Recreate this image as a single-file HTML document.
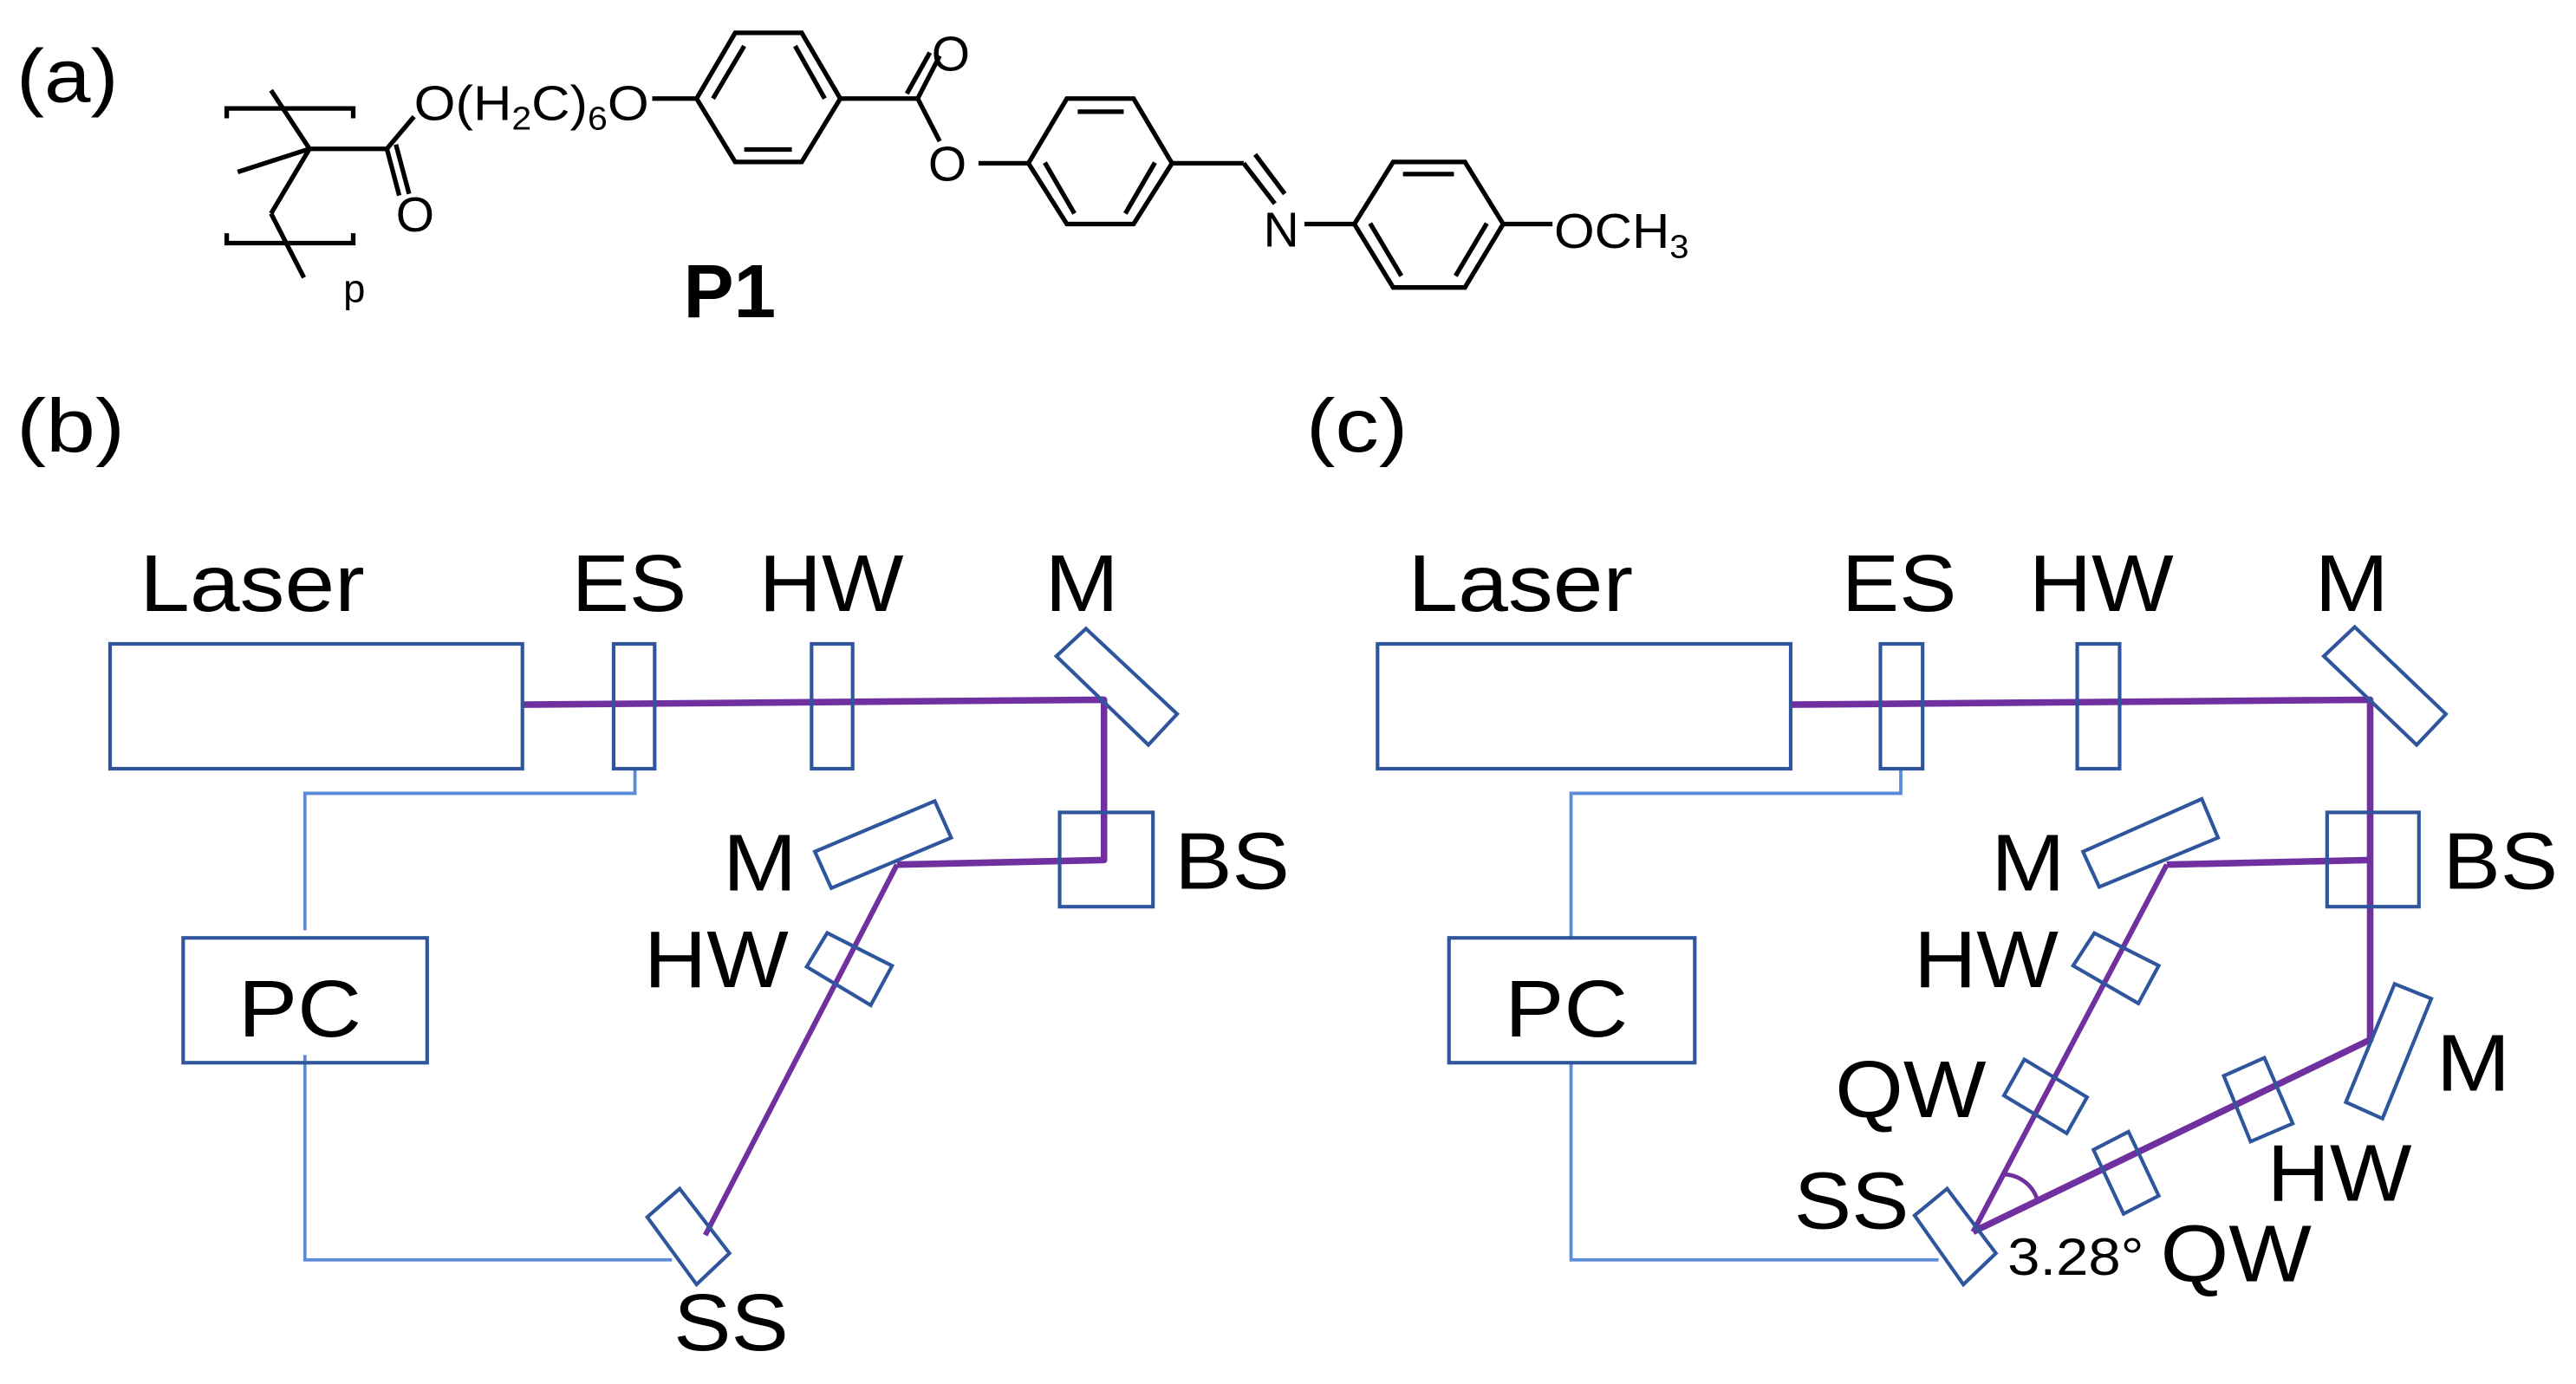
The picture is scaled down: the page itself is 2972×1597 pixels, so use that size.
<!DOCTYPE html>
<html><head><meta charset="utf-8"><style>
html,body{margin:0;padding:0;background:#fff;}
svg{display:block;}
text{font-family:"Liberation Sans",Arial,sans-serif;fill:#000;}
</style></head><body>
<svg width="2972" height="1597" viewBox="0 0 1568 842.6" preserveAspectRatio="none" xmlns="http://www.w3.org/2000/svg">
<!-- (a) chemistry -->
<text x="10" y="62" font-size="46" textLength="62" lengthAdjust="spacingAndGlyphs">(a)</text>
<g stroke="#000" stroke-width="2.8" fill="none">
<polyline points="138,72 138,66 215,66 215,72"/>
<polyline points="138,142 138,148 215,148 215,142"/>
<line x1="165" y1="55" x2="188.4" y2="90.6"/>
<line x1="188.4" y1="90.6" x2="144.7" y2="104.7"/>
<line x1="188.4" y1="90.6" x2="235.5" y2="90.6"/>
<line x1="235.5" y1="90.6" x2="252" y2="71"/>
<line x1="235.5" y1="90.6" x2="243" y2="119"/>
<line x1="241" y1="88" x2="249" y2="118"/>
<line x1="188.4" y1="90.6" x2="165" y2="130"/>
<line x1="165" y1="130" x2="185" y2="169"/>
<line x1="397" y1="60" x2="424" y2="60"/>
<polygon points="424,60 447.5,20 488,20 511.5,60 488,98.6 447.5,98.6"/>
<line x1="434" y1="60" x2="453" y2="28"/><line x1="453" y1="91" x2="482" y2="91"/><line x1="502" y1="60" x2="484" y2="28"/>
<line x1="511.5" y1="60" x2="558.6" y2="60"/>
<line x1="558.6" y1="60" x2="572" y2="34"/><line x1="552" y1="57" x2="566" y2="32"/>
<line x1="558.6" y1="60" x2="572" y2="86"/>
<line x1="595.6" y1="99.4" x2="626" y2="99.4"/>
<polygon points="626,99.4 649.4,60 690,60 713.4,99.4 690,136.4 649.4,136.4"/>
<line x1="656" y1="68" x2="684" y2="68"/><line x1="636" y1="99" x2="654" y2="130"/><line x1="703" y1="99" x2="685" y2="130"/>
<line x1="713.4" y1="99.4" x2="757" y2="99.4"/>
<line x1="757" y1="99.4" x2="776" y2="124"/><line x1="764" y1="94" x2="782" y2="118"/>
<line x1="794" y1="136.4" x2="824.4" y2="136.4"/>
<polygon points="824.4,136.4 848,98.6 891.7,98.6 915,136.4 891.7,175 848,175"/>
<line x1="854" y1="106" x2="885" y2="106"/><line x1="834" y1="136" x2="853" y2="168"/><line x1="905" y1="136" x2="886" y2="168"/>
<line x1="915" y1="136.4" x2="945" y2="136.4"/>
</g>
<text x="252" y="73" font-size="30" textLength="143" lengthAdjust="spacingAndGlyphs">O(H<tspan font-size="20" dy="6">2</tspan><tspan dy="-6">C)</tspan><tspan font-size="20" dy="6">6</tspan><tspan dy="-6">O</tspan></text>
<text x="567" y="43" font-size="30">O</text>
<text x="565" y="110" font-size="30">O</text>
<text x="241" y="141" font-size="30">O</text>
<text x="769" y="150" font-size="30">N</text>
<text x="946" y="151" font-size="30" textLength="82" lengthAdjust="spacingAndGlyphs">OCH<tspan font-size="20" dy="6">3</tspan></text>
<text x="209" y="184" font-size="24">p</text>
<text x="416" y="193" font-size="46" font-weight="bold">P1</text>

<text x="10" y="275" font-size="46" textLength="66" lengthAdjust="spacingAndGlyphs">(b)</text>
<text x="795" y="275" font-size="46" textLength="62" lengthAdjust="spacingAndGlyphs">(c)</text>

<!-- (b) -->
<g font-size="49" lengthAdjust="spacingAndGlyphs">
<text x="85" y="372" textLength="137" lengthAdjust="spacingAndGlyphs">Laser</text>
<text x="348" y="372" textLength="70" lengthAdjust="spacingAndGlyphs">ES</text>
<text x="462" y="372" textLength="88" lengthAdjust="spacingAndGlyphs">HW</text>
<text x="636" y="372" textLength="45" lengthAdjust="spacingAndGlyphs">M</text>
<text x="440" y="542" textLength="45" lengthAdjust="spacingAndGlyphs">M</text>
<text x="715" y="541" textLength="70" lengthAdjust="spacingAndGlyphs">BS</text>
<text x="392" y="601" textLength="88" lengthAdjust="spacingAndGlyphs">HW</text>
<text x="410" y="822" textLength="70" lengthAdjust="spacingAndGlyphs">SS</text>
<text x="145" y="631" textLength="75" lengthAdjust="spacingAndGlyphs">PC</text>
</g>
<g fill="none" stroke="#5b8bd9" stroke-width="2">
<polyline points="386.5,468 386.5,483 185.6,483 185.6,566.4"/>
<polyline points="185.6,642.3 185.6,767 409,767"/>
</g>
<g fill="none" stroke="#7030a0" stroke-linejoin="round">
<polyline stroke-width="4" points="318,429 672,426 672,523.6 546,526.4"/>
<line stroke-width="3.2" x1="546" y1="526.4" x2="429.3" y2="752"/>
</g>
<g fill="none" stroke="#2f569c" stroke-width="2.2">
<rect x="67" y="392" width="251" height="76"/>
<rect x="373.5" y="392" width="25" height="76"/>
<rect x="494" y="392" width="25" height="76"/>
<polygon points="643,399.5 661,382.7 716.5,434.7 699,453.5"/>
<rect x="645" y="494.6" width="56.8" height="57.4"/>
<polygon points="496,518.5 569,487.7 579,510 506,540.7"/>
<polygon points="491,588.6 503.5,568 543,588 530,612"/>
<polygon points="394,741 413.7,723.7 444,763 424,782"/>
<rect x="111.5" y="571" width="148.5" height="76"/>
</g>

<!-- (c) -->
<g font-size="49">
<text x="857" y="372" textLength="137" lengthAdjust="spacingAndGlyphs">Laser</text>
<text x="1121" y="372" textLength="70" lengthAdjust="spacingAndGlyphs">ES</text>
<text x="1235" y="372" textLength="88" lengthAdjust="spacingAndGlyphs">HW</text>
<text x="1409" y="372" textLength="45" lengthAdjust="spacingAndGlyphs">M</text>
<text x="1212" y="542" textLength="45" lengthAdjust="spacingAndGlyphs">M</text>
<text x="1487" y="541" textLength="70" lengthAdjust="spacingAndGlyphs">BS</text>
<text x="1165" y="601" textLength="88" lengthAdjust="spacingAndGlyphs">HW</text>
<text x="1117" y="680" textLength="92" lengthAdjust="spacingAndGlyphs">QW</text>
<text x="1483" y="664" textLength="45" lengthAdjust="spacingAndGlyphs">M</text>
<text x="1380" y="731" textLength="88" lengthAdjust="spacingAndGlyphs">HW</text>
<text x="1092" y="748" textLength="70" lengthAdjust="spacingAndGlyphs">SS</text>
<text x="1315" y="780" textLength="92" lengthAdjust="spacingAndGlyphs">QW</text>
<text x="916" y="631" textLength="75" lengthAdjust="spacingAndGlyphs">PC</text>
</g>
<text x="1222" y="776" font-size="32" textLength="83" lengthAdjust="spacingAndGlyphs">3.28°</text>
<g fill="none" stroke="#5b8bd9" stroke-width="2">
<polyline points="1157,468 1157,483 956.3,483 956.3,571"/>
<polyline points="956.3,647 956.3,767 1180,767"/>
</g>
<g fill="none" stroke="#7030a0" stroke-linejoin="round">
<polyline stroke-width="4" points="1090,429 1442.7,426 1442.7,634"/>
<polyline stroke-width="4" points="1442.7,523.6 1318.9,526.4"/>
<line stroke-width="3.2" x1="1318.9" y1="526.4" x2="1201" y2="750"/>
<line stroke-width="4" x1="1442.7" y1="633" x2="1201" y2="750"/>
<path stroke-width="2.5" d="M1220,715 A22,22 0 0 1 1240,730"/>
</g>
<g fill="none" stroke="#2f569c" stroke-width="2.2">
<rect x="838.5" y="392" width="251.5" height="76"/>
<rect x="1144.6" y="392" width="25.7" height="76"/>
<rect x="1264.4" y="392" width="25.8" height="76"/>
<polygon points="1414.5,399.5 1433.3,381.7 1488.8,434.7 1471,453.5"/>
<rect x="1416.5" y="494.6" width="55.9" height="57.4"/>
<polygon points="1267.9,518.5 1340.2,486.4 1350.1,510 1277.8,540"/>
<polygon points="1261.9,587.9 1274.8,568.1 1314,587.9 1301.6,610.9"/>
<polygon points="1219.8,667 1232.2,645 1270.4,668 1258,690"/>
<polygon points="1427.9,671 1457.6,599 1479.9,608 1450.2,681"/>
<polygon points="1353.6,655 1378.3,644 1395.6,684 1369.9,695"/>
<polygon points="1274.3,700 1295.6,689 1314,728 1292.6,739"/>
<polygon points="1165.4,740 1185.2,723.7 1214.9,763 1195.1,782"/>
<rect x="882" y="571" width="149.6" height="76"/>
</g>
</svg>
</body></html>
